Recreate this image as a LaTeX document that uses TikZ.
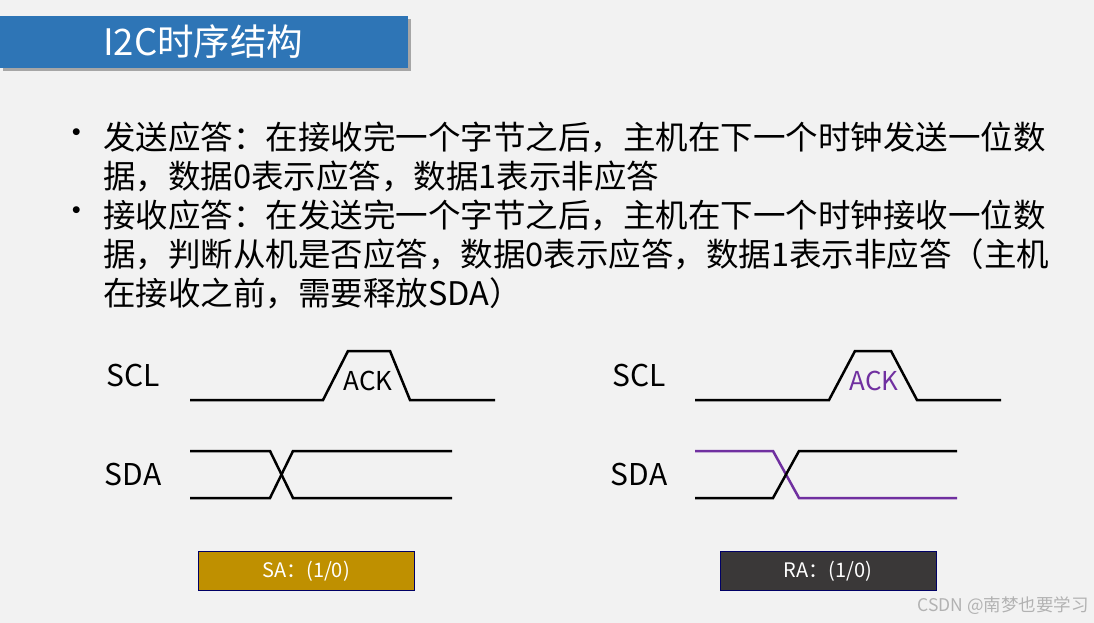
\documentclass[tikz,border=0pt]{standalone}
\usepackage{fontspec}
\setmainfont{Noto Sans CJK SC}
\begin{document}
\begin{tikzpicture}[x=1pt,y=-1pt,
  wave/.style={line width=2.5pt,line join=miter},
  lbl/.style={font=\fontsize{30}{30}\selectfont,inner sep=0pt},
  body/.style={anchor=west,inner sep=0pt,font=\fontsize{32.5}{32.5}\selectfont},
  tag/.style={draw=blue!40!black,line width=0.6pt,minimum width=216pt,minimum height=39pt,inner sep=0pt,text=white,font=\fontsize{20}{20}\selectfont}]
\definecolor{bg}{HTML}{F2F2F2}
\definecolor{tblue}{HTML}{2E75B6}
\definecolor{gold}{HTML}{BF9000}
\definecolor{dgray}{HTML}{3A3838}
\definecolor{purp}{HTML}{7030A0}
\fill[bg] (0,0) rectangle (1094,623);
\useasboundingbox (0,0) rectangle (1094,623);
\fill[black!35] (3,19) rectangle (411,71);
\fill[tblue] (0,16) rectangle (408,68);
\node[anchor=west,inner sep=0pt,text=white,font=\fontsize{36.5}{36.5}\selectfont] (title) at (103,42) {I2C时序结构};
\node[body] (b1) at (60,137) {•};
\node[body] (l1) at (103,137) {发送应答：在接收完一个字节之后，主机在下一个时钟发送一位数};
\node[body] (l2) at (103,176) {据，数据0表示应答，数据1表示非应答};
\node[body] (b2) at (60,215) {•};
\node[body] (l3) at (103,215) {接收应答：在发送完一个字节之后，主机在下一个时钟接收一位数};
\node[body] (l4) at (103,254) {据，判断从机是否应答，数据0表示应答，数据1表示非应答（主机};
\node[body] (l5) at (103,293) {在接收之前，需要释放SDA）};
% left
\node[lbl] (scl1) at (133,376) {SCL};
\node[lbl] (sda1) at (133,474) {SDA};
\draw[wave] (190,400) -- (323,400) -- (348,351) -- (390,351) -- (410,400) -- (495,400);
\node[lbl,font=\fontsize{26}{26}\selectfont] (ack1) at (368,381) {ACK};
\draw[wave] (190,451) -- (270,451) -- (293,498) -- (452,498);
\draw[wave] (190,498) -- (270,498) -- (293,451) -- (452,451);
\node[tag,fill=gold] (sa) at (306,571) {SA：(1/0)};
% right
\node[lbl] (scl2) at (639,376) {SCL};
\node[lbl] (sda2) at (639,474) {SDA};
\draw[wave] (695,400) -- (829,400) -- (855,351) -- (891,351) -- (917,400) -- (1001,400);
\node[lbl,text=purp,font=\fontsize{26}{26}\selectfont] (ack2) at (874,381) {ACK};
\draw[wave,purp] (695,451) -- (773,451) -- (799,498) -- (957,498);
\draw[wave] (695,498) -- (773,498) -- (799,451) -- (957,451);
\node[tag,fill=dgray] (ra) at (828,571) {RA：(1/0)};
\node[anchor=east,inner sep=0pt,text=black!30,font=\fontsize{17.5}{17.5}\selectfont] (wm) at (1089,606) {CSDN @南梦也要学习};
\end{tikzpicture}
\end{document}
